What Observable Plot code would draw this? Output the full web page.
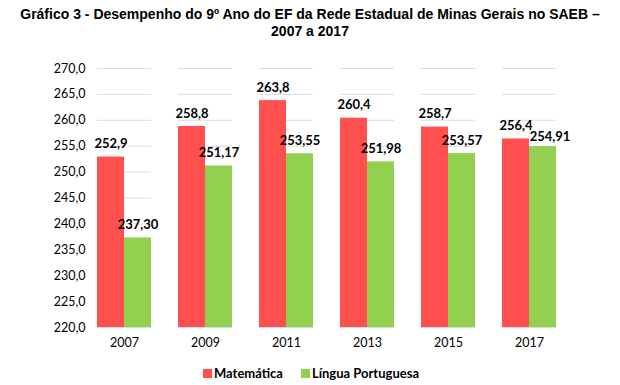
<!DOCTYPE html>
<html>
<head>
<meta charset="utf-8">
<script src="https://cdn.jsdelivr.net/npm/d3@7"></script>
<script src="https://cdn.jsdelivr.net/npm/@observablehq/plot@0.6"></script>
<style>
  body { margin: 0; background: #fff; width: 620px; height: 385px; overflow: hidden; }
  #title { height: 45px; box-sizing: border-box; padding-top: 6px; text-align: center;
    font: bold 14px "Liberation Sans", Arial, sans-serif; line-height: 17px; color: #000; }
  #chart svg { display: block; }
  #legend { position: absolute; top: 365px; left: 0; width: 622px; text-align: center;
    font: bold 13px Lato, "Open Sans", sans-serif; color: #000; }
  #legend span.item { margin: 0 9px; white-space: nowrap; }
  #legend span.sw { display: inline-block; width: 9px; height: 9px; margin-right: 2px; vertical-align: 0px; }
</style>
</head>
<body>
<div id="title">Gráfico 3 - Desempenho do 9º Ano do EF da Rede Estadual de Minas Gerais no SAEB –<br>2007 a 2017</div>
<div id="chart"></div>
<div id="legend"></div>
<script>
const years = ["2007", "2009", "2011", "2013", "2015", "2017"];
const seriesNames = ["Matemática", "Língua Portuguesa"];
const matematica = [252.9, 258.8, 263.8, 260.4, 258.7, 256.4];
const portugues = [237.30, 251.17, 253.55, 251.98, 253.57, 254.91];
const decimals = [1, 2];
const colors = ["#FF4F4F", "#92D050"];
const yTicks = d3.range(220, 271, 5);

const data = [];
years.forEach((y, i) => {
  data.push({year: y, series: seriesNames[0], value: matematica[i], dec: decimals[0]});
  data.push({year: y, series: seriesNames[1], value: portugues[i], dec: decimals[1]});
});
const fmt = d => d.value.toFixed(d.dec).replace(".", ",");
const isShifted = d => d.year === "2017" && d.series === seriesNames[1];

const chart = Plot.plot({
  width: 620,
  height: 315,
  marginTop: 23,
  marginBottom: 33,
  marginLeft: 82,
  marginRight: 49,
  style: {fontFamily: "Lato, 'Open Sans', sans-serif", fontSize: "12.5px", color: "#000"},
  fx: {domain: years, paddingInner: 0.337, paddingOuter: 0.1685, label: null},
  x: {domain: seriesNames, padding: 0, axis: null},
  y: {domain: [220, 270], label: null},
  color: {domain: seriesNames, range: colors},
  marks: [
    Plot.gridY(yTicks, {stroke: "#d9dde3", strokeOpacity: 1}),
    Plot.axisY({ticks: yTicks, tickSize: 0, tickPadding: 12, label: null,
      tickFormat: v => v.toFixed(1).replace(".", ","), fontSize: 12.5}),
    Plot.axisFx({anchor: "bottom", tickSize: 0, tickPadding: 11, label: null, fontSize: 12.5}),
    Plot.barY(data, {fx: "year", x: "series", y1: 220, y2: "value", fill: "series"}),
    Plot.text(data.filter(d => !isShifted(d)), {fx: "year", x: "series", y: "value", text: fmt,
      lineAnchor: "bottom", dy: -9, fontWeight: "bold", fontSize: 13}),
    Plot.text(data.filter(isShifted), {fx: "year", x: "series", y: "value", text: fmt,
      lineAnchor: "bottom", dy: -6, dx: 7, fontWeight: "bold", fontSize: 13})
  ]
});
document.getElementById("chart").appendChild(chart);

const legend = document.getElementById("legend");
seriesNames.forEach((s, i) => {
  const item = document.createElement("span");
  item.className = "item";
  const sw = document.createElement("span");
  sw.className = "sw";
  sw.style.background = colors[i];
  item.appendChild(sw);
  item.appendChild(document.createTextNode(s));
  legend.appendChild(item);
});
</script>
</body>
</html>
